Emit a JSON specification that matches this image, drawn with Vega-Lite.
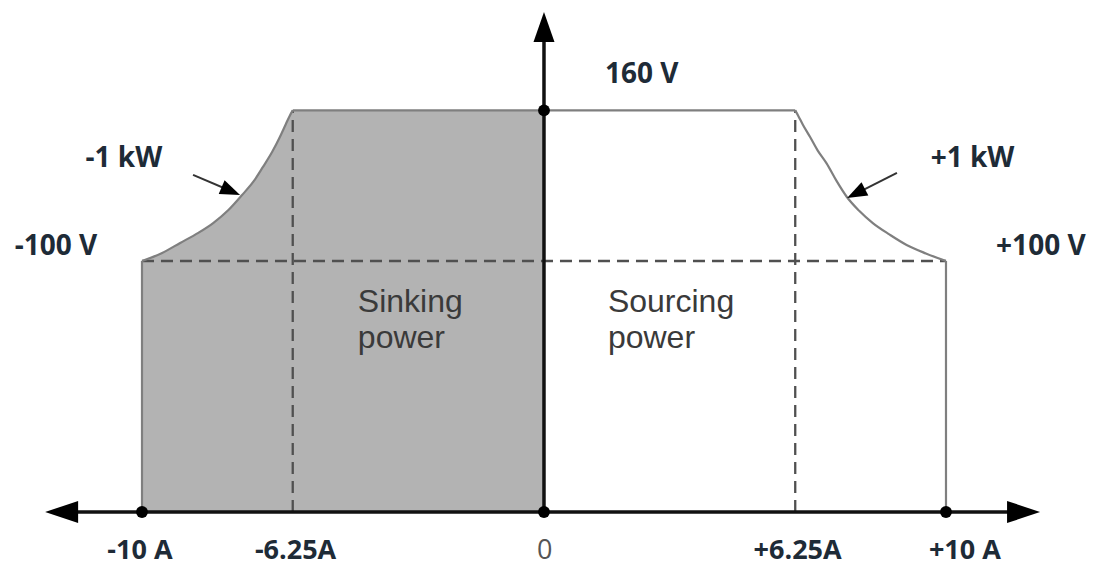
{
  "$schema": "https://vega.github.io/schema/vega-lite/v6.json",
  "width": 1093,
  "height": 567,
  "autosize": {"type": "fit", "contains": "padding"},
  "padding": 0,
  "background": "white",
  "config": {"view": {"stroke": null}},
  "datasets": {
    "leftCurve": [
      {"x": -10, "y": 100}, {"x": -9.5, "y": 103.2}, {"x": -9.05, "y": 107.2}, {"x": -8.6, "y": 111.2}, {"x": -8.23, "y": 115.1},
      {"x": -7.85, "y": 120.3}, {"x": -7.51, "y": 126.3}, {"x": -7.22, "y": 131.8}, {"x": -6.99, "y": 137.5}, {"x": -6.76, "y": 143.5}, {"x": -6.57, "y": 149.4},
      {"x": -6.42, "y": 154.6}, {"x": -6.32, "y": 158}, {"x": -6.25, "y": 160}
    ],
    "rightCurve": [
      {"x": 6.25, "y": 160}, {"x": 6.32, "y": 158}, {"x": 6.44, "y": 154.3}, {"x": 6.62, "y": 149.4}, {"x": 6.81, "y": 144},
      {"x": 7.03, "y": 138.9}, {"x": 7.27, "y": 132.1}, {"x": 7.53, "y": 125.6}, {"x": 7.84, "y": 120}, {"x": 8.18, "y": 115.1},
      {"x": 8.6, "y": 110.5}, {"x": 9.02, "y": 106.4}, {"x": 9.5, "y": 103}, {"x": 10, "y": 100}
    ],
    "shade": [
      {"x": -10, "y": 100}, {"x": -9.5, "y": 103.2}, {"x": -9.05, "y": 107.2}, {"x": -8.6, "y": 111.2}, {"x": -8.23, "y": 115.1},
      {"x": -7.85, "y": 120.3}, {"x": -7.51, "y": 126.3}, {"x": -7.22, "y": 131.8}, {"x": -6.99, "y": 137.5}, {"x": -6.76, "y": 143.5}, {"x": -6.57, "y": 149.4},
      {"x": -6.42, "y": 154.6}, {"x": -6.32, "y": 158}, {"x": -6.25, "y": 160}, {"x": -3, "y": 160}, {"x": 0, "y": 160}
    ],
    "edges": [
      {"x": -10, "y": 0, "x2": -10, "y2": 100},
      {"x": 10, "y": 0, "x2": 10, "y2": 100},
      {"x": -6.25, "y": 160, "x2": 6.25, "y2": 160}
    ],
    "dashes": [
      {"x": -6.25, "y": 0, "x2": -6.25, "y2": 160},
      {"x": 6.25, "y": 0, "x2": 6.25, "y2": 160},
      {"x": -10, "y": 100, "x2": 10, "y2": 100}
    ],
    "axes": [
      {"x": -12.2, "y": 0, "x2": 12.1, "y2": 0},
      {"x": 0, "y": 0, "x2": 0, "y2": 196}
    ],
    "pointers": [
      {"x": -8.73, "y": 134.3, "x2": -7.7, "y2": 127.3},
      {"x": 8.78, "y": 135.1, "x2": 7.7, "y2": 126.3}
    ],
    "dots": [
      {"x": -10, "y": 0}, {"x": 0, "y": 0}, {"x": 10, "y": 0}, {"x": 0, "y": 160}
    ],
    "boldLabels": [
      {"x": 2.43, "y": 170.9, "t": "160 V"},
      {"x": -10.45, "y": 137.5, "t": "-1 kW"},
      {"x": 10.66, "y": 137.5, "t": "+1 kW"},
      {"x": -12.14, "y": 102.4, "t": "-100 V"},
      {"x": 12.36, "y": 102.4, "t": "+100 V"}
    ],
    "bottomLabels": [
      {"x": -10.05, "y": -18.6, "t": "-10 A"},
      {"x": -6.18, "y": -18.6, "t": "-6.25A"},
      {"x": 6.31, "y": -18.6, "t": "+6.25A"},
      {"x": 10.47, "y": -18.6, "t": "+10 A"}
    ],
    "regionLabels": [
      {"x": -4.63, "y": 79.7, "t": "Sinking"},
      {"x": -4.63, "y": 65.3, "t": "power"},
      {"x": 1.59, "y": 79.7, "t": "Sourcing"},
      {"x": 1.59, "y": 65.3, "t": "power"}
    ]
  },
  "encoding": {
    "x": {"field": "x", "type": "quantitative", "axis": null, "scale": {"domain": [-13.532, 13.657], "nice": false, "zero": false}},
    "y": {"field": "y", "type": "quantitative", "axis": null, "scale": {"domain": [-21.91, 203.98], "nice": false, "zero": false}}
  },
  "layer": [
    {
      "data": {"name": "shade"},
      "mark": {"type": "area", "color": "#b3b3b3", "opacity": 1, "interpolate": "monotone"},
      "encoding": {"y2": {"datum": 0}}
    },
    {
      "data": {"name": "dashes"},
      "mark": {"type": "rule", "color": "#505050", "strokeWidth": 2.3, "strokeDash": [12, 7]},
      "encoding": {"x2": {"field": "x2"}, "y2": {"field": "y2"}}
    },
    {
      "data": {"name": "leftCurve"},
      "mark": {"type": "line", "color": "#7f7f7f", "strokeWidth": 2.2, "interpolate": "monotone"}
    },
    {
      "data": {"name": "rightCurve"},
      "mark": {"type": "line", "color": "#7f7f7f", "strokeWidth": 2.2, "interpolate": "monotone"}
    },
    {
      "data": {"name": "edges"},
      "mark": {"type": "rule", "color": "#7f7f7f", "strokeWidth": 2.2},
      "encoding": {"x2": {"field": "x2"}, "y2": {"field": "y2"}}
    },
    {
      "data": {"name": "axes"},
      "mark": {"type": "rule", "color": "#111111", "strokeWidth": 3.5},
      "encoding": {"x2": {"field": "x2"}, "y2": {"field": "y2"}}
    },
    {
      "data": {"values": [{"x": -12.41, "y": 0}]},
      "mark": {"type": "point", "shape": "M0,0L2,-0.67L2,0.67Z", "size": 1089, "filled": true, "color": "#000000", "opacity": 1}
    },
    {
      "data": {"values": [{"x": 12.34, "y": 0}]},
      "mark": {"type": "point", "shape": "M0,0L-2,-0.67L-2,0.67Z", "size": 1089, "filled": true, "color": "#000000", "opacity": 1}
    },
    {
      "data": {"values": [{"x": 0, "y": 199.2}]},
      "mark": {"type": "point", "shape": "M0,0L-0.7,2L0.7,2Z", "size": 900, "filled": true, "color": "#000000", "opacity": 1}
    },
    {
      "data": {"name": "pointers"},
      "mark": {"type": "rule", "color": "#333333", "strokeWidth": 2},
      "encoding": {"x2": {"field": "x2"}, "y2": {"field": "y2"}}
    },
    {
      "data": {"values": [{"x": -7.56, "y": 126.3}]},
      "mark": {"type": "point", "shape": "M0,0L-2,-0.75L-2,0.75Z", "size": 400, "angle": 23, "filled": true, "color": "#000000", "opacity": 1}
    },
    {
      "data": {"values": [{"x": 7.54, "y": 125.1}]},
      "mark": {"type": "point", "shape": "M0,0L-2,-0.75L-2,0.75Z", "size": 400, "angle": 153, "filled": true, "color": "#000000", "opacity": 1}
    },
    {
      "data": {"name": "dots"},
      "mark": {"type": "point", "shape": "circle", "size": 140, "filled": true, "color": "#000000", "opacity": 1}
    },
    {
      "data": {"name": "boldLabels"},
      "mark": {"type": "text", "font": "Open Sans", "fontWeight": "bold", "fontSize": 28, "color": "#1e2b37", "align": "center", "baseline": "alphabetic"},
      "encoding": {"text": {"field": "t"}}
    },
    {
      "data": {"name": "bottomLabels"},
      "mark": {"type": "text", "font": "Open Sans", "fontWeight": "bold", "fontSize": 27, "color": "#1e2b37", "align": "center", "baseline": "alphabetic"},
      "encoding": {"text": {"field": "t"}}
    },
    {
      "data": {"values": [{"x": 0.02, "y": -18.6, "t": "0"}]},
      "mark": {"type": "text", "font": "Open Sans", "fontSize": 27, "color": "#555555", "align": "center", "baseline": "alphabetic"},
      "encoding": {"text": {"field": "t"}}
    },
    {
      "data": {"name": "regionLabels"},
      "mark": {"type": "text", "font": "Liberation Sans", "fontSize": 32, "color": "#3a3a3a", "align": "left", "baseline": "alphabetic"},
      "encoding": {"text": {"field": "t"}}
    }
  ]
}
